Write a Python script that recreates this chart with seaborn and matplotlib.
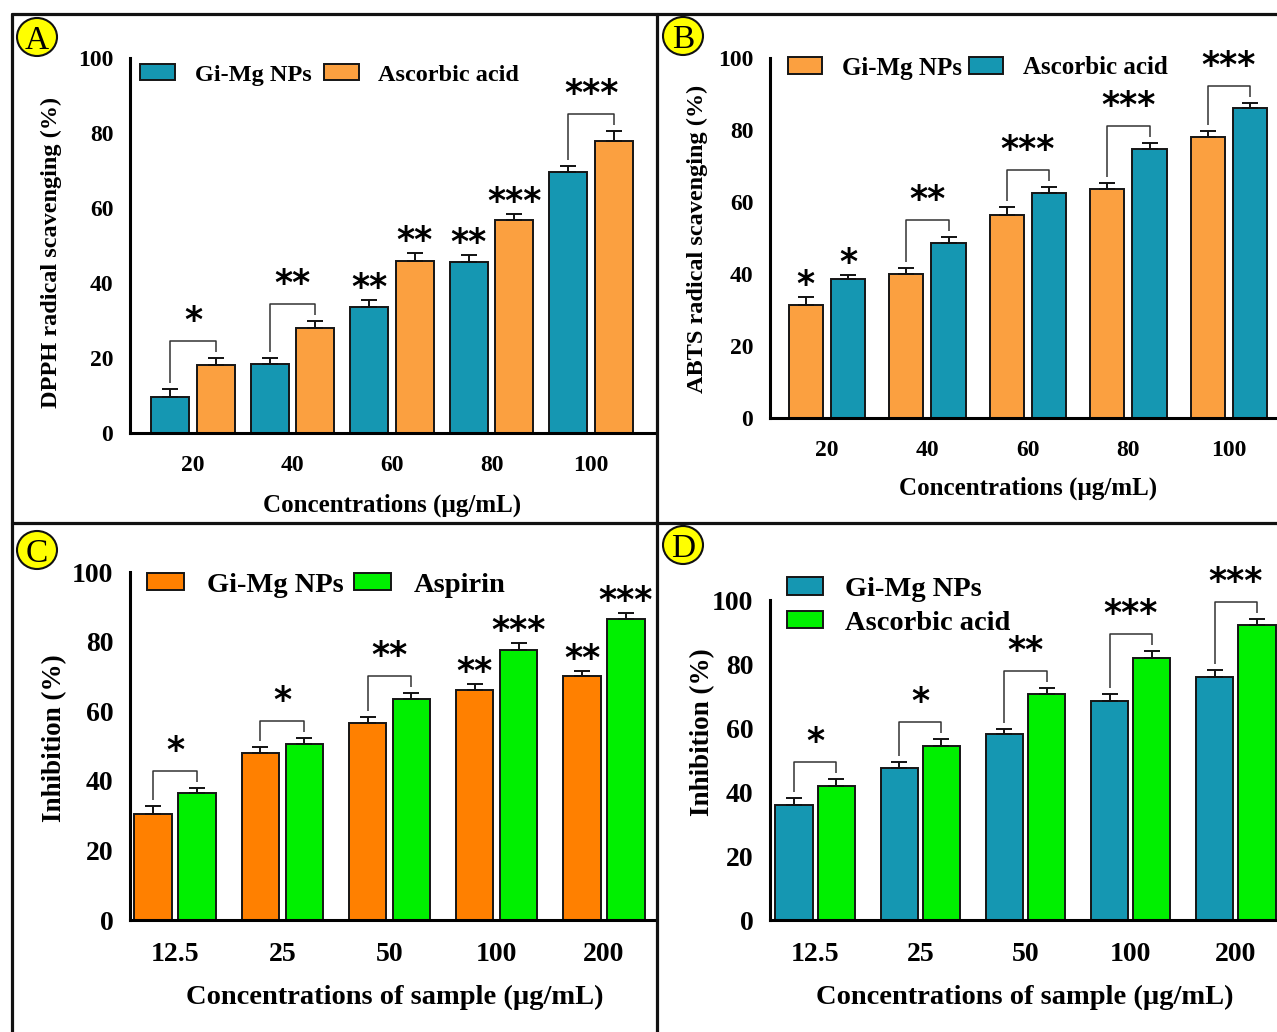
import numpy as np
import pandas as pd
import seaborn as sns
import matplotlib
matplotlib.use('Agg')
from matplotlib import pyplot as plt
from matplotlib.lines import Line2D
from matplotlib.patches import Ellipse

# ---- data ----
conc_ab = ['20', '40', '60', '80', '100']
conc_cd = ['12.5', '25', '50', '100', '200']

dpph_np = [9.5, 18.5, 33.5, 45.5, 69.5]
dpph_np_err = [2.2, 1.5, 2.0, 2.0, 1.8]
dpph_aa = [18.2, 28.0, 46.0, 56.7, 78.0]
dpph_aa_err = [1.8, 2.0, 2.0, 1.8, 2.5]

abts_np = [31.5, 40.0, 56.5, 63.5, 78.0]
abts_np_err = [2.0, 1.8, 2.0, 1.7, 1.6]
abts_aa = [38.5, 48.5, 62.5, 74.7, 86.0]
abts_aa_err = [1.3, 1.7, 1.7, 1.8, 1.4]

antiinf_np = [30.5, 48.0, 56.5, 66.0, 70.0]
antiinf_np_err = [2.2, 1.7, 1.8, 1.7, 1.6]
antiinf_asp = [36.5, 50.5, 63.5, 77.5, 86.5]
antiinf_asp_err = [1.5, 1.7, 1.7, 2.0, 1.6]

inhib_np = [36.0, 47.5, 58.0, 68.5, 76.0]
inhib_np_err = [2.2, 2.0, 1.8, 2.0, 2.0]
inhib_aa = [42.0, 54.5, 70.5, 82.0, 92.2]
inhib_aa_err = [2.0, 2.0, 2.0, 2.0, 2.0]

# significance marks: ('b', label) bracket between the pair, ('e', (left, right)) above each bar
sig_a = [('b', '*'), ('b', '**'), ('e', ('**', '**')), ('e', ('**', '***')), ('b', '***')]
sig_b = [('e', ('*', '*')), ('b', '**'), ('b', '***'), ('b', '***'), ('b', '***')]
sig_c = [('b', '*'), ('b', '*'), ('b', '**'), ('e', ('**', '***')), ('e', ('**', '***'))]
sig_d = [('b', '*'), ('b', '*'), ('b', '**'), ('b', '***'), ('b', '***')]

TEAL = '#1597b2'
LORANGE = '#fba040'
ORANGE = '#ff8000'
GREEN = '#00f000'

W, H = 1277, 1032
SERIF = 'Liberation Serif'
STAR_FS = 25


def fx(px):
    return px / W


def fy(py):
    return 1 - py / H


def make_axes(fig, x0, x1, y0, y100, ytop, xlim):
    yt = y0 - ytop * (y0 - y100) / 100.0
    ax = fig.add_axes([fx(x0), fy(y0), (x1 - x0) / W, (y0 - yt) / H])
    ax.set_ylim(0, ytop)
    ax.set_xlim(*xlim)
    return ax


def draw_panel(ax, conc, names, vals, errs, colors, width, gap, fs, sig, hpx):
    df = pd.DataFrame({'conc': conc * 2,
                       'group': [names[0]] * len(conc) + [names[1]] * len(conc),
                       'value': vals[0] + vals[1]})
    xlim = ax.get_xlim()
    ylim = ax.get_ylim()
    sns.barplot(data=df, x='conc', y='value', hue='group', order=conc, hue_order=names,
                palette=colors, saturation=1, width=width, gap=gap, errorbar=None,
                edgecolor='#151515', linewidth=1.4, legend=False, ax=ax)
    ax.set_xlim(*xlim)
    ax.set_ylim(*ylim)
    bars = list(ax.containers[:2])

    for cont, err in zip(bars, errs):
        xs = [p.get_x() + p.get_width() / 2 for p in cont]
        hs = [p.get_height() for p in cont]
        ax.errorbar(xs, hs, yerr=[np.zeros(len(err)), err], fmt='none',
                    ecolor='#111111', elinewidth=1.4, capsize=6, capthick=1.4)

    # data units per pixel
    upp = (ylim[1] - ylim[0]) / hpx
    for i, (kind, lab) in enumerate(sig):
        pl, pr = bars[0][i], bars[1][i]
        xl = pl.get_x() + pl.get_width() / 2
        xr = pr.get_x() + pr.get_width() / 2
        tl = pl.get_height() + errs[0][i]
        tr = pr.get_height() + errs[1][i]
        if kind == 'b':
            top = max(tl, tr) + 17 * upp
            ax.plot([xl, xl, xr, xr], [tl + 6 * upp, top, top, tr + 6 * upp],
                    color='#333333', lw=1.1, solid_capstyle='butt')
            ax.text((xl + xr) / 2, top + 3 * upp, lab, ha='center', va='bottom',
                    fontsize=STAR_FS, fontweight='bold', family='DejaVu Sans', color='black')
        else:
            for x, t, l in zip((xl, xr), (tl, tr), lab):
                ax.text(x, t - 5 * upp, l, ha='center', va='bottom',
                        fontsize=STAR_FS, fontweight='bold', family='DejaVu Sans', color='black')

    ax.spines['top'].set_visible(False)
    ax.spines['right'].set_visible(False)
    ax.spines['left'].set_bounds(0, 100)
    for s in ('left', 'bottom'):
        ax.spines[s].set_linewidth(2.2)
        ax.spines[s].set_color('black')
    ax.set_yticks([0, 20, 40, 60, 80, 100])
    ax.tick_params(axis='both', direction='out', length=8.5, width=2.2,
                   labelsize=fs, color='black', labelcolor='black')
    ax.tick_params(axis='y', pad=3.5)
    ax.tick_params(axis='x', pad=7)
    for t in ax.get_xticklabels() + ax.get_yticklabels():
        t.set_fontweight('bold')
        t.set_family(SERIF)
    ax.set_facecolor('none')


def set_labels(ax, x0, x1, y0, yt, xlabel, xlab_px, xfs, ylabel, ylab_px, yfs):
    ax.set_xlabel(xlabel, fontsize=xfs, fontweight='bold', family=SERIF, color='black')
    ax.set_ylabel(ylabel, fontsize=yfs, fontweight='bold', family=SERIF, color='black')
    ax.xaxis.label.set_va('center')
    ax.yaxis.label.set_va('center')
    ax.xaxis.set_label_coords((xlab_px[0] - x0) / (x1 - x0), (y0 - xlab_px[1]) / (y0 - yt))
    ax.yaxis.set_label_coords((ylab_px[0] - x0) / (x1 - x0), (y0 - ylab_px[1]) / (y0 - yt))


def legend(ax, fig, names, x, y, fs, ncol, loc, colsp, hl, hh, lsp=0.4):
    leg = ax.legend(handles=list(ax.containers[:2]), labels=names, loc=loc,
                    bbox_to_anchor=(fx(x), fy(y)), bbox_transform=fig.transFigure,
                    ncol=ncol, frameon=False, borderpad=0, borderaxespad=0,
                    handlelength=hl, handleheight=hh, handletextpad=0.8,
                    columnspacing=colsp, labelspacing=lsp,
                    prop={'family': SERIF, 'weight': 'bold', 'size': fs})
    for t in leg.get_texts():
        t.set_color('black')


def main():
    sns.set_style('white')
    plt.rcParams['font.family'] = [SERIF, 'DejaVu Sans']
    plt.rcParams['text.color'] = 'black'
    plt.rcParams['axes.labelcolor'] = 'black'
    fig = plt.figure(figsize=(W / 100, H / 100), dpi=100)
    fig.patch.set_facecolor('white')

    # panel A
    x0, x1, y0, y100, ytop = 130, 655, 433, 58, 110
    ax = make_axes(fig, x0, x1, y0, y100, ytop, (-0.633, 4.643))
    yt = y0 - ytop * (y0 - y100) / 100
    draw_panel(ax, conc_ab, ['Gi-Mg NPs', 'Ascorbic acid'], [dpph_np, dpph_aa],
               [dpph_np_err, dpph_aa_err], [TEAL, LORANGE], 0.92, 0.17, 17, sig_a, y0 - yt)
    set_labels(ax, x0, x1, y0, yt, 'Concentrations (\u00b5g/mL)', (392, 505), 18,
               'DPPH radical scavenging (%)', (51, 252), 17.5)
    legend(ax, fig, ['Gi-Mg NPs', 'Ascorbic acid'], 140, 75, 17.5, 2, 'center left', 0.5, 1.45, 0.65)

    # panel B
    x0, x1, y0, y100, ytop = 770, 1277, 418, 58, 110.5
    ax = make_axes(fig, x0, x1, y0, y100, ytop, (-0.567, 4.478))
    yt = y0 - ytop * (y0 - y100) / 100
    draw_panel(ax, conc_ab, ['Gi-Mg NPs', 'Ascorbic acid'], [abts_np, abts_aa],
               [abts_np_err, abts_aa_err], [LORANGE, TEAL], 0.84, 0.19, 17, sig_b, y0 - yt)
    set_labels(ax, x0, x1, y0, yt, 'Concentrations (\u00b5g/mL)', (1028, 488), 18,
               'ABTS radical scavenging (%)', (697, 239), 17.5)
    legend(ax, fig, ['Gi-Mg NPs', 'Ascorbic acid'], 788, 68, 18, 2, 'center left', 0.3, 1.35, 0.65)

    # panel C
    x0, x1, y0, y100, ytop = 130, 655, 920, 572, 112.6
    ax = make_axes(fig, x0, x1, y0, y100, ytop, (-0.42, 4.476))
    yt = y0 - ytop * (y0 - y100) / 100
    draw_panel(ax, conc_cd, ['Gi-Mg NPs', 'Aspirin'], [antiinf_np, antiinf_asp],
               [antiinf_np_err, antiinf_asp_err], [ORANGE, GREEN], 0.82, 0.15, 20, sig_c, y0 - yt)
    set_labels(ax, x0, x1, y0, yt, 'Concentrations of sample (\u00b5g/mL)', (395, 997), 20.5,
               'Inhibition (%)', (55, 738), 19.5)
    legend(ax, fig, ['Gi-Mg NPs', 'Aspirin'], 147, 585, 20.5, 2, 'center left', 0.35, 1.3, 0.55)

    # panel D
    x0, x1, y0, y100, ytop = 770, 1277, 920, 600, 122.5
    ax = make_axes(fig, x0, x1, y0, y100, ytop, (-0.428, 4.39))
    yt = y0 - ytop * (y0 - y100) / 100
    draw_panel(ax, conc_cd, ['Gi-Mg NPs', 'Ascorbic acid'], [inhib_np, inhib_aa],
               [inhib_np_err, inhib_aa_err], [TEAL, GREEN], 0.8, 0.12, 20, sig_d, y0 - yt)
    set_labels(ax, x0, x1, y0, yt, 'Concentrations of sample (\u00b5g/mL)', (1025, 997), 20.5,
               'Inhibition (%)', (703, 732), 19.5)
    legend(ax, fig, ['Gi-Mg NPs', 'Ascorbic acid'], 787, 577, 20.5, 1, 'upper left', 0.5, 1.25, 0.55, 0.3)

    # panel frames
    for xs, ys in [((12, W), (14, 14)), ((12, 12), (14, H)), ((657, 657), (14, H)),
                   ((12, W), (523, 523))]:
        fig.add_artist(Line2D([fx(v) for v in xs], [fy(v) for v in ys],
                              transform=fig.transFigure, color='#111111', lw=2.3))

    # panel letters
    for letter, cx, cy in [('A', 37, 37), ('B', 683, 36), ('C', 37, 550), ('D', 683, 545)]:
        fig.add_artist(Ellipse((fx(cx), fy(cy)), 40 / W, 38 / H, transform=fig.transFigure,
                               facecolor='#ffff00', edgecolor='#111111', lw=1.5))
        fig.text(fx(cx), fy(cy), letter, ha='center', va='center_baseline', fontsize=24,
                 family=SERIF, color='black')

    fig.savefig('out.png', dpi=100, facecolor='white')


if __name__ == '__main__':
    main()
